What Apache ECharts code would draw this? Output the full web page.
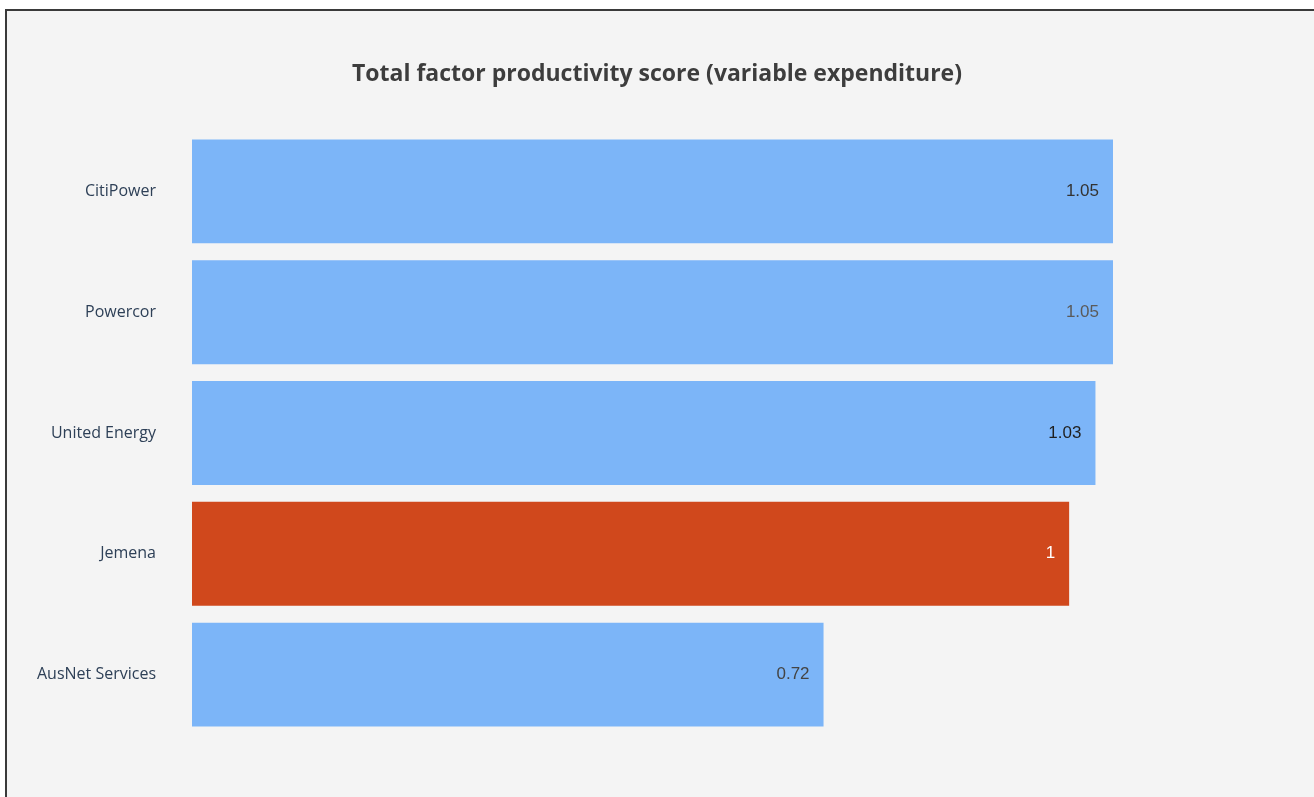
<!DOCTYPE html>
<html>
<head>
<meta charset="utf-8">
<script src="https://cdn.jsdelivr.net/npm/echarts@6/dist/echarts.min.js"></script>
<style>
  html, body { margin: 0; padding: 0; background: #ffffff; width: 1314px; height: 797px; overflow: hidden; }
  #frame { position: absolute; left: 5px; top: 9px; width: 1320px; height: 800px; background: #f4f4f4; border-left: 2px solid #3a3a3a; border-top: 2px solid #3a3a3a; }
  #chart { position: absolute; left: 0; top: 0; width: 1314px; height: 797px; }
</style>
</head>
<body>
<div id="frame"></div>
<div id="chart"></div>
<script>
const categories = ['CitiPower', 'Powercor', 'United Energy', 'Jemena', 'AusNet Services'];
const values = [1.05, 1.05, 1.03, 1.00, 0.72];
const highlight = 'Jemena';
const title = 'Total factor productivity score (variable expenditure)';

const blue = '#7cb5f8';
const red = '#d0481c';
const labelColors = ['#333333', '#5a5a5a', '#1f1f1f', '#ffffff', '#444444'];

const chart = echarts.init(document.getElementById('chart'), null, { renderer: 'canvas' });
chart.setOption({
  backgroundColor: 'transparent',
  animation: false,
  title: {
    text: title,
    left: 'center',
    top: 58,
    textStyle: { fontFamily: 'Open Sans', fontWeight: 'bold', fontSize: 23, color: '#3d3d3d' }
  },
  grid: { left: 192, right: 201, top: 131, bottom: 62, containLabel: false },
  xAxis: {
    type: 'value', min: 0, max: 1.05,
    show: false
  },
  yAxis: {
    type: 'category',
    data: categories,
    inverse: true,
    axisLine: { show: false },
    axisTick: { show: false },
    splitLine: { show: false },
    axisLabel: { margin: 36, color: '#2e4057', fontSize: 16, fontFamily: 'Open Sans', padding: [6, 0, 0, 0] }
  },
  series: [{
    type: 'bar',
    barCategoryGap: '14%',
    data: values.map((v, i) => ({
      value: v,
      itemStyle: { color: categories[i] === highlight ? red : blue },
      label: { color: labelColors[i] }
    })),
    label: {
      show: true,
      position: 'insideRight',
      distance: 14,
      fontSize: 17,
      fontFamily: 'Liberation Sans',
      formatter: p => String(+p.value.toFixed(2))
    }
  }]
});
</script>
</body>
</html>
